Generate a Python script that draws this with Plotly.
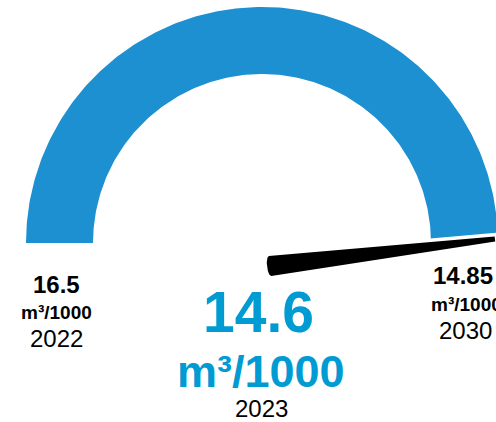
import numpy as np
import plotly.graph_objects as go

# ---- data -------------------------------------------------------------
years = ["2022", "2023", "2030"]
values = [16.5, 14.6, 14.85]          # m3/1000 per year above
unit = "m³/1000"

start_value = values[0]    # 2022, left end of the dial
current_value = values[1]  # 2023, needle
target_value = values[2]   # 2030, right end of the dial

# ---- styling / geometry (pixel space of the canvas) -------------------
W, H = 496, 422
CX, CY = 262, 243          # dial centre
R_OUT, R_IN = 236, 169     # band radii
TIP_R = 233                # needle reach
PIVOT = (270, 266)         # needle hub
NEEDLE_STOP = np.radians(1.0)
BLUE = "#1C90D0"
BIG_BLUE = "#009BD2"
FONT = "Liberation Sans, Arial, sans-serif"


def value_to_angle(v):
    frac = (start_value - v) / (start_value - target_value)
    frac = min(max(frac, 0.0), 1.0)
    return np.pi * (1.0 - frac)


def polar(r, a):
    return CX + r * np.cos(a), CY - r * np.sin(a)


# band from the 2022 value to the 2030 target
a0, a1 = value_to_angle(start_value), value_to_angle(target_value)
ang = np.linspace(a0, a1, 240)
ox, oy = polar(R_OUT, ang)
ix, iy = polar(R_IN, ang[::-1])
band_x = np.concatenate([ox, ix, ox[:1]])
band_y = np.concatenate([oy, iy, oy[:1]])

# needle towards the current value
a_needle = max(value_to_angle(current_value), NEEDLE_STOP)
tx, ty = polar(TIP_R, a_needle)
px, py = PIVOT
d = np.array([tx - px, ty - py])
u = d / np.linalg.norm(d)
n = np.array([-u[1], u[0]])


def needle_poly(hb, ht, pad):
    p = np.array([px, py]) - u * pad
    t = np.array([tx, ty]) + u * pad
    pts = [p + n * hb, t + n * ht, t - n * ht, p - n * hb]
    ts = np.linspace(-1, 1, 15)
    for s in ts:
        pts.append(p + n * hb * s - u * 3.0 * np.sqrt(1 - s * s))
    pts.append(pts[0])
    arr = np.array(pts)
    return arr[:, 0], arr[:, 1]


hx, hy = needle_poly(10 + 3.5, 2.5 + 3.5, 3.5)
nx, ny = needle_poly(10, 2.5, 0)

fig = go.Figure()
fig.add_trace(go.Scatter(x=band_x, y=band_y, mode="lines", fill="toself",
                         fillcolor=BLUE, line=dict(width=0), hoverinfo="skip"))
fig.add_trace(go.Scatter(x=hx, y=hy, mode="lines", fill="toself",
                         fillcolor="white", line=dict(width=0), hoverinfo="skip"))
fig.add_trace(go.Scatter(x=nx, y=ny, mode="lines", fill="toself",
                         fillcolor="black", line=dict(width=0), hoverinfo="skip"))


def label(x, y, text, size, color="black", bold=False):
    fig.add_annotation(x=x, y=y, xref="x", yref="y", showarrow=False,
                       text=f"<b>{text}</b>" if bold else text,
                       font=dict(family=FONT, size=size, color=color),
                       xanchor="center", yanchor="middle")


# left end: 2022
label(56, 284, f"{start_value:g}", 24, bold=True)
label(56, 312, unit, 19, bold=True)
label(56, 338.5, years[0], 24)

# right end: 2030
label(463, 275.5, f"{target_value:g}", 24, bold=True)
label(466, 304, unit, 19, bold=True)
label(465.5, 330, years[2], 24)

# centre: 2023
label(258.5, 312, f"{current_value:g}", 57, color=BIG_BLUE, bold=True)
label(261, 371, unit, 45, color=BIG_BLUE, bold=True)
label(261.5, 408.5, years[1], 24)

fig.update_layout(
    width=W, height=H, margin=dict(l=0, r=0, t=0, b=0),
    paper_bgcolor="white", plot_bgcolor="white", showlegend=False,
    xaxis=dict(range=[0, W], visible=False, fixedrange=True),
    yaxis=dict(range=[H, 0], visible=False, fixedrange=True),
)

fig.write_html("out.html", config={"displayModeBar": False})
